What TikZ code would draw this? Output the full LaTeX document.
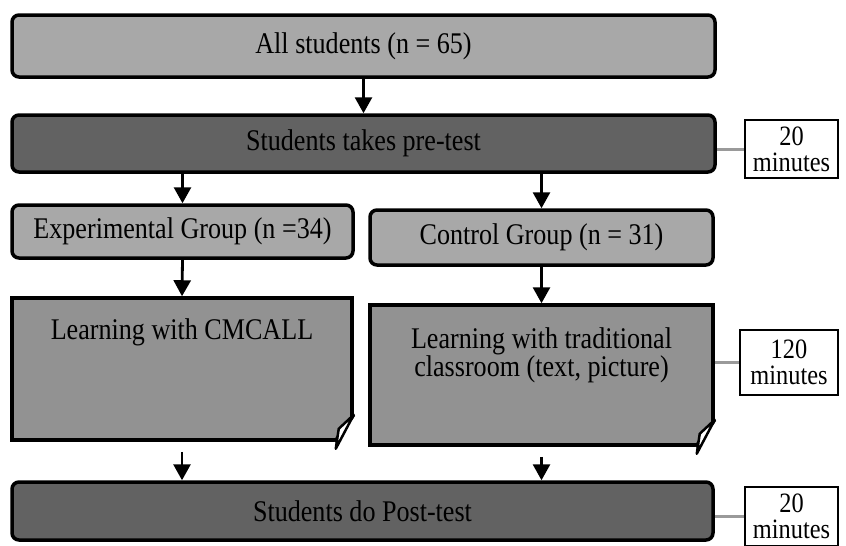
\documentclass[tikz,border=0pt]{standalone}
\usepackage{fontspec}
\setmainfont[FakeStretch=0.87]{Liberation Serif}
\usetikzlibrary{arrows.meta,calc}
\definecolor{lightbox}{HTML}{A8A8A8}
\definecolor{darkbox}{HTML}{626262}
\definecolor{midbox}{HTML}{929292}
\definecolor{linkgray}{HTML}{9A9A9A}
\tikzset{
  rbox/.style={draw=black, line width=3.5pt, rounded corners=7pt, inner sep=0pt, font=\fontsize{30}{28}\selectfont, align=center},
  lightrb/.style={rbox, fill=lightbox},
  darkrb/.style={rbox, fill=darkbox},
  learnbox/.style={draw=black, line width=3.5pt, fill=midbox, inner sep=0pt},
  timebox/.style={draw=black, line width=2pt, fill=white, inner sep=0pt, align=center, font=\fontsize{28}{25}\selectfont},
  arr/.style={line width=2.8pt, -{Triangle[width=17pt,length=16pt]}},
  link/.style={line width=3pt, draw=linkgray},
  lbl/.style={anchor=north, font=\fontsize{30}{27}\selectfont, align=center, inner sep=0pt}
}
\begin{document}
\begin{tikzpicture}[x=1pt,y=-1pt]
\useasboundingbox (0,0) rectangle (846,546);
% main flow boxes
\node[lightrb, minimum width=703pt, minimum height=62pt] (all) at (363.5,46) {All students (n = 65)};
\node[darkrb, minimum width=703pt, minimum height=57pt] (pre) at (363.5,143.5) {Students takes pre-test};
\node[lightrb, minimum width=341pt, minimum height=53pt] (exp) at (182.5,231.5) {Experimental Group (n =34)};
\node[lightrb, minimum width=343pt, minimum height=55pt] (ctrl) at (541.5,237.5) {Control Group (n = 31)};
\node[learnbox, minimum width=340pt, minimum height=142pt,
      label={[lbl, yshift=-22pt]north:Learning with CMCALL}] (l1) at (182,369) {};
\node[learnbox, minimum width=343pt, minimum height=140pt,
      label={[lbl, yshift=-24pt]north:Learning with traditional\\classroom (text, picture)}] (l2) at (541.5,375) {};
\node[darkrb, minimum width=701pt, minimum height=58pt] (post) at (362.5,511) {Students do Post-test};
% time boxes
\node[timebox, minimum width=93pt, minimum height=58pt] (t1) at (791.5,149) {20\\[1pt]minutes};
\node[timebox, minimum width=98pt, minimum height=65pt] (t2) at (789,362.5) {120\\[1pt]minutes};
\node[timebox, minimum width=93pt, minimum height=59pt] (t3) at (791.5,516.5) {20\\[1pt]minutes};
% folded corners
\foreach \b in {l1,l2}{
  \fill[white] ($(\b.south east)+(2.5,-27)$) -- ($(\b.south east)+(2.5,2.5)$) -- ($(\b.south east)+(-21,2.5)$) -- cycle;
  \draw[line width=3.5pt, line join=round] ($(\b.south east)+(0,-27)$) -- ($(\b.south east)+(-19,0)$);
  \draw[line width=2.5pt, fill=white, line join=round] ($(\b.south east)+(0,-27)$) -- ($(\b.south east)+(-15,-13)$) -- ($(\b.south east)+(-18,7)$) -- cycle;
}
% connectors
\draw[arr] (all.south) -- (pre.north);
\draw[arr] (pre.south -| exp.north) -- (exp.north);
\draw[arr] (pre.south -| ctrl.north) -- (ctrl.north);
\draw[arr] (exp.south) -- (l1.north);
\draw[arr] (ctrl.south) -- (l2.north);
\draw[arr] ($(l1.south)+(0,10)$) -- (l1.south |- post.north);
\draw[arr] ($(l2.south)+(0,10)$) -- (l2.south |- post.north);
% time links
\draw[link] (pre.east |- t1.west) -- (t1.west);
\draw[link] (l2.east |- t2.west) -- (t2.west);
\draw[link] (post.east |- t3.west) -- (t3.west);
\end{tikzpicture}
\end{document}
